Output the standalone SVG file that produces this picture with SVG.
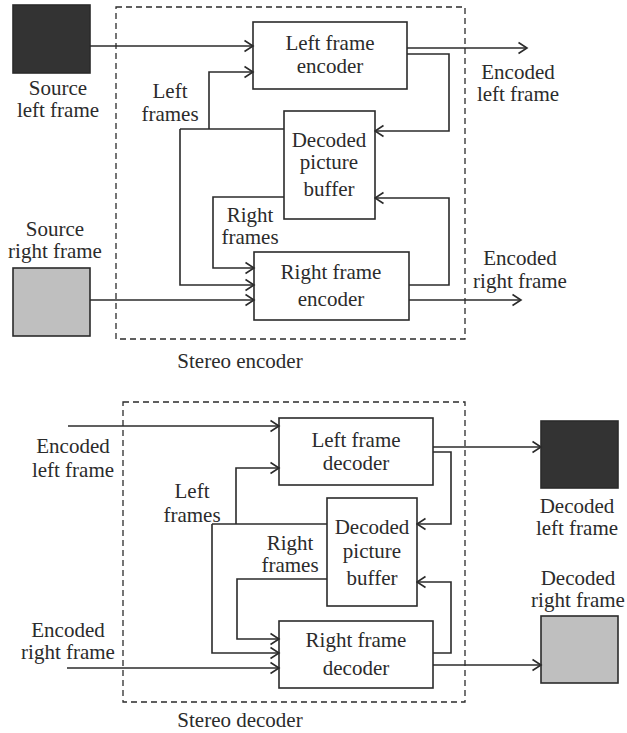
<svg xmlns="http://www.w3.org/2000/svg" width="627" height="733" viewBox="0 0 627 733">
  <style>
    text { font-family: "Liberation Serif", "Times New Roman", serif; font-size: 21px; fill: #2b2b2b; text-anchor: middle; }
    .box { fill: #ffffff; stroke: #2b2b2b; stroke-width: 1.6; }
    .dark { fill: #333333; stroke: #2b2b2b; stroke-width: 1.6; }
    .light { fill: #bfbfbf; stroke: #2b2b2b; stroke-width: 1.6; }
    .frame { fill: none; stroke: #2b2b2b; stroke-width: 1.3; stroke-dasharray: 6 4; }
    .wire { fill: none; stroke: #2b2b2b; stroke-width: 1.6; }
    .arrow { marker-end: url(#chev); }
  </style>
  <defs>
    <marker id="chev" markerUnits="userSpaceOnUse" markerWidth="12" markerHeight="14" viewBox="0 0 12 14" refX="10.5" refY="7" orient="auto">
      <path d="M2,1.5 L10.5,7 L2,12.5" fill="none" stroke="#2b2b2b" stroke-width="1.6"/>
    </marker>
  </defs>

  <!-- ===== Stereo encoder ===== -->
  <g id="encoder-frame">
    <rect class="frame" x="116" y="7" width="349" height="332"/>
    <text x="240" y="368">Stereo encoder</text>
  </g>

  <g id="source-left">
    <rect class="dark" x="13" y="5" width="77" height="68"/>
    <text x="58" y="95">Source</text>
    <text x="58" y="117">left frame</text>
  </g>

  <g id="source-right">
    <text x="55" y="236">Source</text>
    <text x="55" y="258">right frame</text>
    <rect class="light" x="13" y="268" width="77" height="68"/>
  </g>

  <g id="left-encoder">
    <rect class="box" x="253" y="22" width="154" height="67"/>
    <text x="330" y="50">Left frame</text>
    <text x="330" y="73">encoder</text>
  </g>

  <g id="enc-dpb">
    <rect class="box" x="284" y="111" width="91" height="108"/>
    <text x="329" y="147">Decoded</text>
    <text x="329" y="169">picture</text>
    <text x="329" y="196">buffer</text>
  </g>

  <g id="right-encoder">
    <rect class="box" x="254" y="252" width="155" height="68"/>
    <text x="331" y="279">Right frame</text>
    <text x="331" y="306">encoder</text>
  </g>

  <g id="enc-labels">
    <text x="170" y="98">Left</text>
    <text x="170" y="121">frames</text>
    <text x="250" y="222">Right</text>
    <text x="250" y="244">frames</text>
    <text x="518" y="79">Encoded</text>
    <text x="518" y="101">left frame</text>
    <text x="520" y="265">Encoded</text>
    <text x="520" y="288">right frame</text>
  </g>

  <g id="enc-connectors">
    <path class="wire arrow" d="M90,46 H253"/>
    <path class="wire arrow" d="M407,48 H527"/>
    <path class="wire arrow" d="M407,54 H449 V131 H375"/>
    <path class="wire arrow" d="M209,129 V72 H253"/>
    <path class="wire" d="M284,129 H180"/>
    <path class="wire arrow" d="M180,129 V285 H254"/>
    <path class="wire arrow" d="M284,197 H213 V268 H254"/>
    <path class="wire arrow" d="M90,300 H254"/>
    <path class="wire arrow" d="M409,285 H449 V198 H375"/>
    <path class="wire arrow" d="M409,300 H521"/>
  </g>

  <!-- ===== Stereo decoder ===== -->
  <g id="decoder-frame">
    <rect class="frame" x="123" y="402" width="342" height="300"/>
    <text x="240" y="727">Stereo decoder</text>
  </g>

  <g id="left-decoder">
    <rect class="box" x="279" y="418" width="154" height="67"/>
    <text x="356" y="447">Left frame</text>
    <text x="356" y="470">decoder</text>
  </g>

  <g id="dec-dpb">
    <rect class="box" x="327" y="498" width="90" height="108"/>
    <text x="372" y="534">Decoded</text>
    <text x="372" y="558">picture</text>
    <text x="372" y="585">buffer</text>
  </g>

  <g id="right-decoder">
    <rect class="box" x="279" y="621" width="154" height="67"/>
    <text x="356" y="647">Right frame</text>
    <text x="356" y="675">decoder</text>
  </g>

  <g id="decoded-left">
    <rect class="dark" x="541" y="421" width="77" height="67"/>
    <text x="577" y="513">Decoded</text>
    <text x="577" y="535">left frame</text>
  </g>

  <g id="decoded-right">
    <text x="578" y="585">Decoded</text>
    <text x="578" y="607">right frame</text>
    <rect class="light" x="541" y="616" width="77" height="67"/>
  </g>

  <g id="dec-labels">
    <text x="73" y="453">Encoded</text>
    <text x="73" y="477">left frame</text>
    <text x="192" y="498">Left</text>
    <text x="192" y="522">frames</text>
    <text x="290" y="550">Right</text>
    <text x="290" y="572">frames</text>
    <text x="68" y="637">Encoded</text>
    <text x="68" y="659">right frame</text>
  </g>

  <g id="dec-connectors">
    <path class="wire arrow" d="M68,426 H279"/>
    <path class="wire arrow" d="M433,447 H541"/>
    <path class="wire arrow" d="M433,452 H451 V524 H417"/>
    <path class="wire arrow" d="M236,524 V468 H279"/>
    <path class="wire" d="M327,524 H212"/>
    <path class="wire arrow" d="M212,524 V653 H279"/>
    <path class="wire arrow" d="M327,579 H237 V639 H279"/>
    <path class="wire arrow" d="M67,668 H279"/>
    <path class="wire arrow" d="M433,653 H451 V582 H417"/>
    <path class="wire arrow" d="M433,665 H541"/>
  </g>
</svg>
